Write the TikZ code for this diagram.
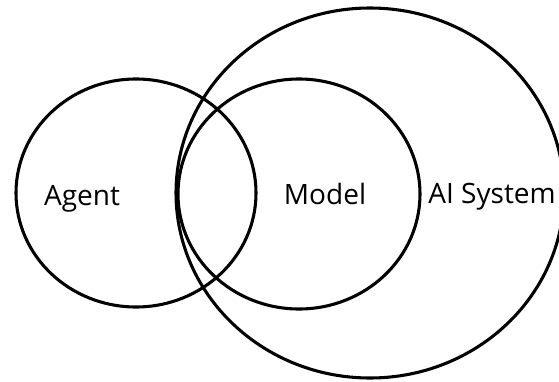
\documentclass[tikz,border=0pt]{standalone}
\usepackage{fontspec}
\setmainfont{Open Sans}
\begin{document}
\begin{tikzpicture}[x=0.75pt,y=-0.75pt,
  ring/.style={draw=black,line width=2.3pt},
  lbl/.style={font=\fontsize{21pt}{24pt}\selectfont,anchor=base,inner sep=0pt}]
\useasboundingbox (0,0) rectangle (559,381);
\coordinate (agentc) at (136,193);
\coordinate (modelc) at (299,194);
\coordinate (aic) at (370,193);
\draw[ring] (aic) ellipse [x radius=194, y radius=185];
\draw[ring] (agentc) ellipse [x radius=120, y radius=114];
\draw[ring] (modelc) ellipse [x radius=121, y radius=115];
\node[lbl] (agent) at (82,205) {Agent};
\node[lbl] (model) at (325,204) {Model};
\node[lbl] (ai) at (492,203) {AI System};
\end{tikzpicture}
\end{document}
